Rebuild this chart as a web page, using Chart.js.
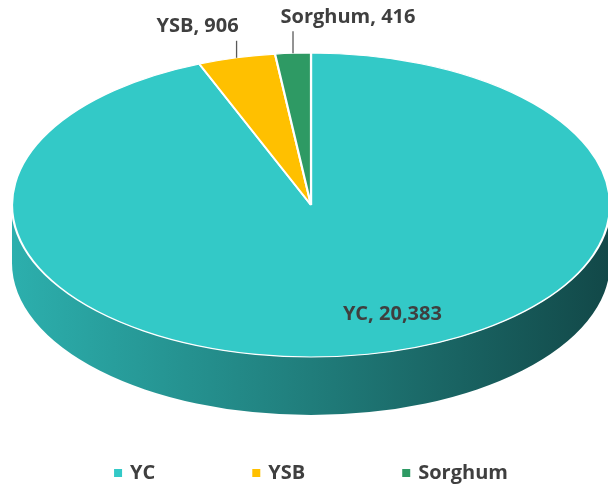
<!DOCTYPE html>
<html lang="en">
<head>
<meta charset="UTF-8">
<title>YC / YSB / Sorghum</title>
<script src="https://cdn.jsdelivr.net/npm/chart.js@4.4.1/dist/chart.umd.min.js"></script>
<style>
html,body{margin:0;padding:0;background:#fff}
#wrap{position:relative;width:608px;height:486px}
</style>
</head>
<body>
<div id="wrap"><canvas id="pie"></canvas></div>
<script>
const categories = ['YC', 'YSB', 'Sorghum'];
const counts = [20383, 906, 416];
const sliceColors = ['#33C9C7', '#FFC000', '#2E9A64'];

// flattened pie placement on the page
const TOP = { cx: 311, cy: 205, rx: 299, ry: 152, depth: 58 };
const FONT = "bold 20px 'Open Sans', sans-serif";
const TEXT = '#3f3f3f';

// label tweaks: inside label turned/shrunk, outside labels get a leader line
const labelPlace = [
  { inside: true, turn: -0.17, k: 0.77 },
  { lead: 17, dx: -39, dy: -31 },
  { lead: 22, dx: 55, dy: -36 },
];

function shade(hex, f) {
  const n = parseInt(hex.slice(1), 16);
  const r = Math.round(((n >> 16) & 255) * f), g = Math.round(((n >> 8) & 255) * f), b = Math.round((n & 255) * f);
  return `rgb(${r},${g},${b})`;
}

function ellPoint(a, k = 1) {
  return { x: TOP.cx + TOP.rx * k * Math.cos(a), y: TOP.cy + TOP.ry * k * Math.sin(a) };
}

const tilt = {
  id: 'tilt',
  beforeDatasetsDraw(chart) {
    const ctx = chart.ctx;
    const arcs = chart.getDatasetMeta(0).data;
    const { cx, cy, rx, ry, depth } = TOP;
    // front wall: only the part of each slice facing the viewer (0..PI)
    arcs.forEach((arc, i) => {
      const a0 = Math.max(arc.startAngle, 0), a1 = Math.min(arc.endAngle, Math.PI);
      if (a1 <= a0) return;
      const g = ctx.createLinearGradient(cx - rx, 0, cx + rx, 0);
      g.addColorStop(0, shade(sliceColors[i], 0.87));
      g.addColorStop(0.5, shade(sliceColors[i], 0.62));
      g.addColorStop(1, shade(sliceColors[i], 0.36));
      ctx.beginPath();
      ctx.ellipse(cx, cy, rx, ry, 0, a0, a1);
      ctx.ellipse(cx, cy + depth, rx, ry, 0, a1, a0, true);
      ctx.closePath();
      ctx.fillStyle = g;
      ctx.fill();
    });
    // squash the round pie into the top ellipse
    const a = arcs[0];
    ctx.save();
    ctx.translate(cx, cy);
    ctx.scale(rx / a.outerRadius, ry / a.outerRadius);
    ctx.translate(-a.x, -a.y);
  },
  afterDatasetsDraw(chart) {
    chart.ctx.restore();
  },
  afterDraw(chart) {
    const ctx = chart.ctx;
    const arcs = chart.getDatasetMeta(0).data;
    ctx.save();
    ctx.font = FONT;
    ctx.fillStyle = TEXT;
    ctx.textAlign = 'center';
    ctx.textBaseline = 'middle';
    arcs.forEach((arc, i) => {
      const mid = (arc.startAngle + arc.endAngle) / 2;
      const text = categories[i] + ', ' + counts[i].toLocaleString('en-US');
      const pl = labelPlace[i];
      if (pl.inside) {
        const q = ellPoint(mid + pl.turn, pl.k);
        ctx.fillText(text, q.x, q.y);
        return;
      }
      const p = ellPoint(mid);
      ctx.strokeStyle = '#595959';
      ctx.lineWidth = 1.3;
      ctx.beginPath();
      ctx.moveTo(p.x, p.y);
      ctx.lineTo(p.x, p.y - pl.lead);
      ctx.stroke();
      ctx.fillText(text, p.x + pl.dx, p.y + pl.dy);
    });

    // legend
    const box = 8, gapBox = 8, gapItem = 97, ly = 473;
    ctx.textAlign = 'left';
    const widths = categories.map(c => ctx.measureText(c).width);
    const total = widths.reduce((s, w) => s + box + gapBox + w, 0) + gapItem * (categories.length - 1);
    let x = TOP.cx - total / 2;
    categories.forEach((c, i) => {
      ctx.fillStyle = sliceColors[i];
      ctx.fillRect(x, ly - box / 2, box, box);
      ctx.fillStyle = TEXT;
      ctx.fillText(c, x + box + gapBox, ly);
      x += box + gapBox + widths[i] + gapItem;
    });
    ctx.restore();
  }
};

new Chart(document.getElementById('pie'), {
  type: 'pie',
  data: {
    labels: categories,
    datasets: [{
      data: counts,
      backgroundColor: sliceColors,
      borderColor: '#ffffff',
      borderWidth: 1.8,
      clip: false,
    }]
  },
  options: {
    responsive: true,
    maintainAspectRatio: false,
    animation: false,
    events: [],
    layout: { padding: 0 },
    plugins: { legend: { display: false }, tooltip: { enabled: false } },
  },
  plugins: [tilt],
});
</script>
</body>
</html>
